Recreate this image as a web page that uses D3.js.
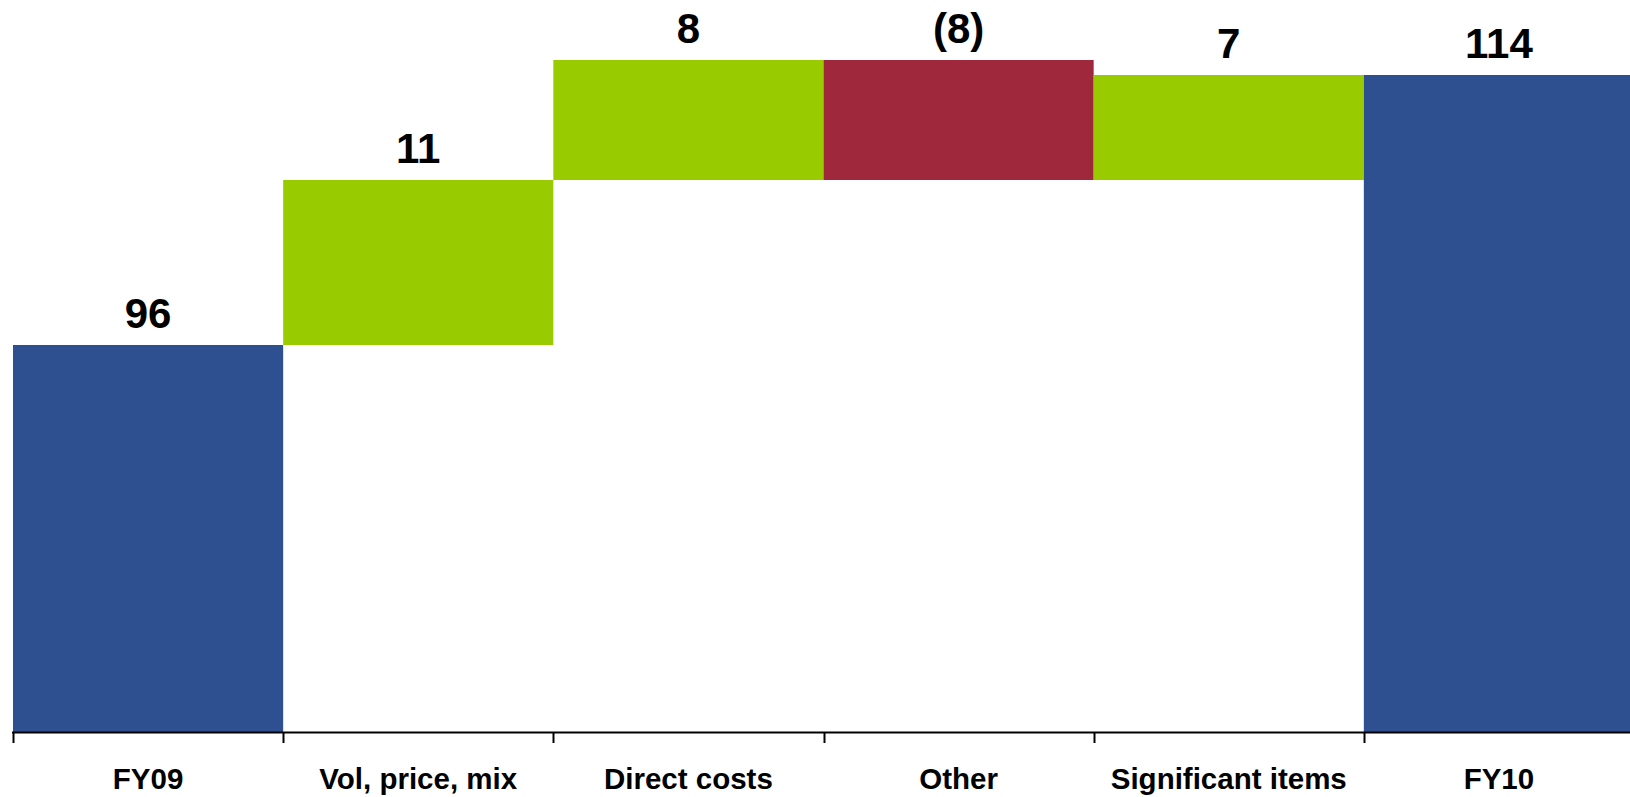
<!DOCTYPE html>
<html>
<head>
<meta charset="utf-8">
<script src="https://cdn.jsdelivr.net/npm/d3@7"></script>
<style>
  html, body { margin: 0; padding: 0; background: #fff; overflow: hidden; }
  text { font-family: "Liberation Sans", Arial, sans-serif; font-weight: bold; }
</style>
</head>
<body>
<svg id="chart" width="1630" height="797"></svg>
<script>
const categories = ["FY09", "Vol, price, mix", "Direct costs", "Other", "Significant items", "FY10"];
const values = [96, 11, 8, -8, 7, 114];
const kinds = ["total", "delta", "delta", "delta", "delta", "total"];
const valueLabels = ["96", "11", "8", "(8)", "7", "114"];
const yDomain = [70.2, 119];

const colors = { total: "#2E5090", up: "#99CC00", down: "#A0283C" };

const svg = d3.select("#chart");
const baseY = 732;
const x = d3.scaleBand().domain(categories).range([13, 1634]).padding(0);
const y = d3.scaleLinear().domain(yDomain).range([baseY, 0]);

let running = 0;
const segs = categories.map((c, i) => {
  let lo, hi, color;
  if (kinds[i] === "total") {
    lo = yDomain[0]; hi = values[i]; running = values[i]; color = colors.total;
  } else {
    const start = running; running += values[i];
    lo = Math.min(start, running); hi = Math.max(start, running);
    color = values[i] >= 0 ? colors.up : colors.down;
  }
  return { c, lo, hi, color, label: valueLabels[i] };
});

svg.append("g").selectAll("rect").data(segs).join("rect")
  .attr("x", d => x(d.c))
  .attr("width", x.bandwidth())
  .attr("y", d => y(d.hi))
  .attr("height", d => y(d.lo) - y(d.hi))
  .attr("fill", d => d.color);

svg.append("g").selectAll("text").data(segs).join("text")
  .attr("x", d => x(d.c) + x.bandwidth() / 2)
  .attr("y", d => y(d.hi) - 17)
  .attr("text-anchor", "middle")
  .attr("font-size", 42)
  .attr("fill", "#000")
  .text(d => d.label);

const axis = d3.axisBottom(x).tickSize(0).tickPadding(0);
const gAxis = svg.append("g").attr("transform", `translate(0,${baseY})`).call(axis);
gAxis.select(".domain").remove();
gAxis.selectAll(".tick text")
  .attr("dy", null)
  .attr("y", 57)
  .attr("font-size", 29.5)
  .attr("fill", "#000")
  .style("font-family", "'Liberation Sans', Arial, sans-serif")
  .style("font-weight", "bold");

svg.append("line")
  .attr("x1", 12).attr("x2", 1630)
  .attr("y1", baseY + 0.5).attr("y2", baseY + 0.5)
  .attr("stroke", "#000").attr("stroke-width", 2);

svg.append("g").selectAll("line").data(categories).join("line")
  .attr("x1", d => Math.round(x(d)) + 0.5)
  .attr("x2", d => Math.round(x(d)) + 0.5)
  .attr("y1", baseY).attr("y2", baseY + 11)
  .attr("stroke", "#000").attr("stroke-width", 2);
</script>
</body>
</html>
